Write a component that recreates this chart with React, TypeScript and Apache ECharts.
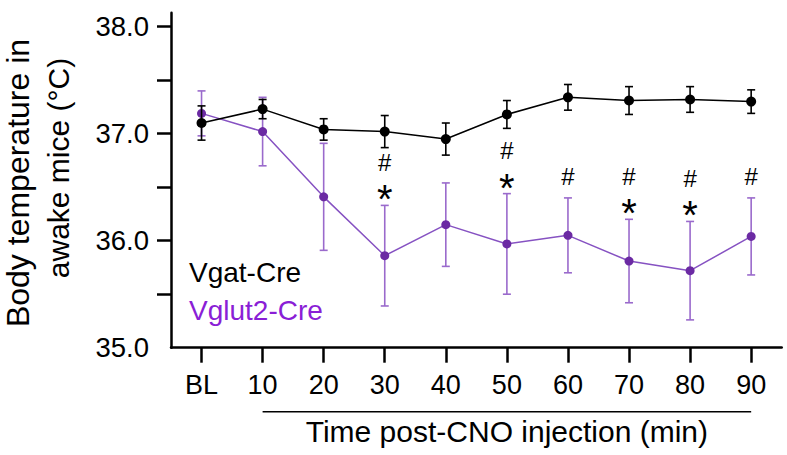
import React, { useEffect, useRef } from "react";
import * as echarts from "echarts";

const categories = ["BL", "10", "20", "30", "40", "50", "60", "70", "80", "90"];
const vgatMean = [37.1, 37.23, 37.04, 37.02, 36.95, 37.18, 37.34, 37.31, 37.32, 37.3];
const vgatErr = [0.16, 0.09, 0.1, 0.15, 0.15, 0.13, 0.12, 0.13, 0.12, 0.11];
const vglutMean = [37.19, 37.02, 36.41, 35.86, 36.15, 35.97, 36.05, 35.81, 35.72, 36.04];
const vglutErr = [0.21, 0.32, 0.5, 0.47, 0.39, 0.47, 0.35, 0.39, 0.46, 0.36];
const starAt = ["30", "50", "70", "80"];
const hashAt = ["30", "50", "60", "70", "80", "90"];
const yTickValues = [35.5, 36, 36.5, 37, 37.5, 38];
const yLabelValues = [35, 36, 37, 38];

const FONT = "'Liberation Sans', Arial, Helvetica, sans-serif";
const PURPLE_PT = "#6B2AA3";
const PURPLE_LINE = "#8652C2";
const PURPLE_ERR = "#9A6ACC";
const PURPLE_TXT = "#8A1ED6";

function errSeries(mean: number[], err: number[], color: string, z: number) {
  return {
    type: "custom",
    z,
    silent: true,
    data: mean.map((m, i) => [i, m, err[i]]),
    renderItem: (params: any, api: any) => {
      const i = api.value(0);
      const m = api.value(1);
      const e = api.value(2);
      const top = api.coord([i, m + e]);
      const bot = api.coord([i, m - e]);
      const cap = 4;
      const st = { stroke: color, lineWidth: 1.6 };
      return {
        type: "group",
        children: [
          { type: "line", shape: { x1: top[0], y1: top[1], x2: bot[0], y2: bot[1] }, style: st },
          { type: "line", shape: { x1: top[0] - cap, y1: top[1], x2: top[0] + cap, y2: top[1] }, style: st },
          { type: "line", shape: { x1: bot[0] - cap, y1: bot[1], x2: bot[0] + cap, y2: bot[1] }, style: st },
        ],
      };
    },
  };
}

export default function App() {
  const ref = useRef<HTMLDivElement>(null);
  useEffect(() => {
    if (!ref.current) return;
    const chart = echarts.init(ref.current, null, { renderer: "svg" });
    const annData = categories
      .map((c, i) => [i, vglutMean[i] + vglutErr[i], starAt.includes(c) ? 1 : 0, hashAt.includes(c) ? 1 : 0])
      .filter((d) => d[2] || d[3]);
    const option: any = {
      animation: false,
      backgroundColor: "#fff",
      grid: { left: 171, right: 5.3, top: 12.7, bottom: 107.3, containLabel: false },
      xAxis: {
        type: "category",
        data: categories,
        boundaryGap: true,
        axisLine: { show: true, lineStyle: { color: "#000", width: 2.5 } },
        axisTick: { show: true, alignWithLabel: true, length: 15, lineStyle: { color: "#000", width: 2.5 } },
        axisLabel: { color: "#000", fontSize: 27, fontFamily: FONT, margin: 24, interval: 0 },
        splitLine: { show: false },
      },
      yAxis: {
        type: "value",
        min: 35,
        max: 38.131,
        axisLine: { show: true, lineStyle: { color: "#000", width: 2.5 } },
        axisTick: { show: true, length: 14, customValues: yTickValues, lineStyle: { color: "#000", width: 2.5 } },
        axisLabel: {
          customValues: yLabelValues,
          color: "#000",
          fontSize: 27.5,
          fontFamily: FONT,
          margin: 22,
          padding: [0, 0, 19, 0],
          formatter: (v: number) => v.toFixed(1),
        },
        splitLine: { show: false },
      },
      series: [
        errSeries(vglutMean, vglutErr, PURPLE_ERR, 1),
        {
          type: "line",
          name: "Vglut2-Cre",
          z: 2,
          data: vglutMean,
          symbol: "circle",
          symbolSize: 9,
          lineStyle: { color: PURPLE_LINE, width: 1.5 },
          itemStyle: { color: PURPLE_PT },
        },
        errSeries(vgatMean, vgatErr, "#000", 3),
        {
          type: "line",
          name: "Vgat-Cre",
          z: 4,
          data: vgatMean,
          symbol: "circle",
          symbolSize: 10,
          lineStyle: { color: "#000", width: 1.5 },
          itemStyle: { color: "#000" },
        },
        {
          type: "custom",
          z: 5,
          silent: true,
          data: annData,
          renderItem: (params: any, api: any) => {
            const p = api.coord([api.value(0), api.value(1)]);
            const hasStar = api.value(2) === 1;
            const hasHash = api.value(3) === 1;
            const children: any[] = [];
            const starY = p[1] - 16;
            if (hasStar) {
              children.push({
                type: "text",
                x: p[0],
                y: starY + 10,
                style: { text: "*", fontSize: 40, lineHeight: 20, fontFamily: FONT, fill: "#000", align: "center", verticalAlign: "middle" },
              });
            }
            if (hasHash) {
              const hy = hasStar ? starY - 27 : p[1] - 21;
              children.push({
                type: "text",
                x: p[0],
                y: hy,
                style: { text: "#", fontSize: 24, lineHeight: 18, fontFamily: FONT, fill: "#000", align: "center", verticalAlign: "middle" },
              });
            }
            return { type: "group", children };
          },
        },
      ],
    };
    chart.setOption(option);
    const x10 = chart.convertToPixel({ xAxisIndex: 0 }, "10") as number;
    const x90 = chart.convertToPixel({ xAxisIndex: 0 }, "90") as number;
    chart.setOption({
      graphic: [
        {
          type: "line",
          shape: { x1: x10, y1: 411.7, x2: x90, y2: 411.7 },
          style: { stroke: "#000", lineWidth: 1.5 },
        },
        {
          type: "text",
          x: (x10 + x90) / 2,
          y: 431.7,
          style: { text: "Time post-CNO injection (min)", fontSize: 30, fontFamily: FONT, fill: "#000", align: "center", verticalAlign: "middle" },
        },
        {
          type: "text",
          x: 18,
          y: 183,
          rotation: Math.PI / 2,
          style: { text: "Body temperature in", fontSize: 32, fontFamily: FONT, fill: "#000", align: "center", verticalAlign: "middle" },
        },
        {
          type: "text",
          x: 58,
          y: 168,
          rotation: Math.PI / 2,
          style: { text: "awake mice (°C)", fontSize: 30, fontFamily: FONT, fill: "#000", align: "center", verticalAlign: "middle" },
        },
        {
          type: "text",
          x: 189,
          y: 272,
          style: { text: "Vgat-Cre", fontSize: 28, fontFamily: FONT, fill: "#000", align: "left", verticalAlign: "middle" },
        },
        {
          type: "text",
          x: 189,
          y: 310,
          style: { text: "Vglut2-Cre", fontSize: 28, fontFamily: FONT, fill: PURPLE_TXT, align: "left", verticalAlign: "middle" },
        },
      ],
    });
    return () => chart.dispose();
  }, []);
  return <div ref={ref} style={{ position: "fixed", left: 0, top: 0, width: 787, height: 455 }} />;
}
